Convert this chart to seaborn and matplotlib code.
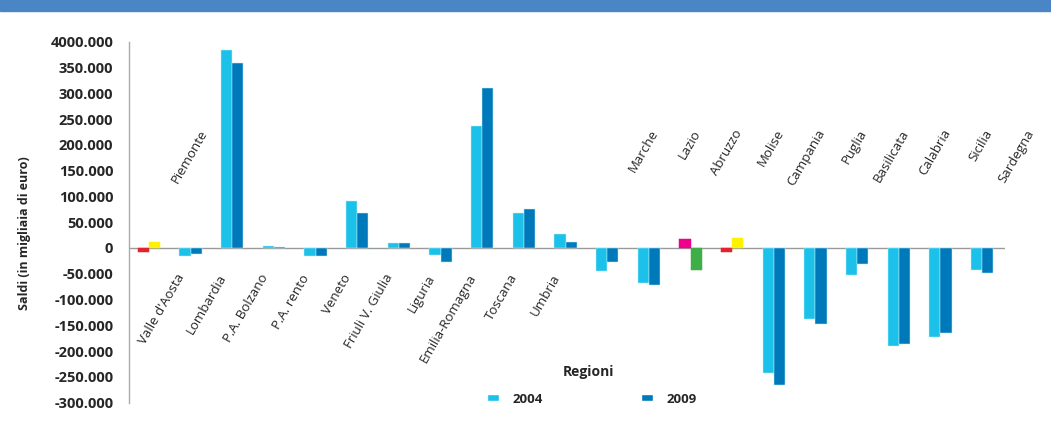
import pandas as pd
import matplotlib.pyplot as plt
import seaborn as sns
from matplotlib.patches import Patch, Rectangle

# ---- Data (migliaia di euro) ----
regions = ["Piemonte", "Valle d'Aosta", "Lombardia", "P.A. Bolzano", "P.A. rento",
           "Veneto", "Friuli V. Giulia", "Liguria", "Emilia-Romagna", "Toscana",
           "Umbria", "Marche", "Lazio", "Abruzzo", "Molise", "Campania", "Puglia",
           "Basilicata", "Calabria", "Sicilia", "Sardegna"]
years = ["2004", "2009"]
v2004 = [-7000, -15000, 383000, 4400, -16000, 91000, 10000, -13500, 237000, 68500,
         27500, -45000, -68000, 18000, -7000, -242000, -138000, -52000, -191000,
         -172000, -42000]
v2009 = [12000, -11500, 359500, 2500, -16000, 68500, 10000, -27500, 311000, 76000,
         11500, -28000, -72000, -42000, 20000, -266000, -148000, -32000, -186000,
         -165000, -49000]
ytick_values = list(range(-300000, 400001, 50000))
ytick_labels = ["-300.000", "-250.000", "-200.000", "-150.000", "-100.000", "-50.000",
                "0", "50.000", "100.000", "150.000", "200.000", "250.000", "300.000",
                "350.000", "4000.000"]
labels_below = regions[1:11]
labels_above = [regions[0]] + regions[11:]

# colours
c2004 = "#1bc1e8"
c2009 = "#0079ba"
special_2004 = {"Piemonte": "#e2232e", "Abruzzo": "#ec008c", "Molise": "#e2232e"}
special_2009 = {"Piemonte": "#fff200", "Abruzzo": "#3fae49", "Molise": "#fff200"}

df = pd.DataFrame({
    "Regione": regions * 2,
    "Anno": [years[0]] * len(regions) + [years[1]] * len(regions),
    "Saldo": v2004 + v2009,
})

sns.set_style("white")
plt.rcParams["font.family"] = ["Open Sans", "DejaVu Sans"]

fig = plt.figure(figsize=(10.51, 4.23), dpi=100)
ax = fig.add_axes([0.123, 0.048, 0.9563 - 0.123, 0.9014 - 0.048])

sns.barplot(data=df, x="Regione", y="Saldo", hue="Anno", palette=[c2004, c2009],
            width=0.54, saturation=1, errorbar=None, legend=False, ax=ax,
            edgecolor="#bfeefa", linewidth=0.35)

# recolour the odd bars
for i, reg in enumerate(regions):
    if reg in special_2004:
        ax.containers[0][i].set_facecolor(special_2004[reg])
        ax.containers[0][i].set_edgecolor(special_2004[reg])
    if reg in special_2009:
        ax.containers[1][i].set_facecolor(special_2009[reg])
        ax.containers[1][i].set_edgecolor(special_2009[reg])

ax.axhline(0, color="#9a9a9a", lw=1, zorder=0)
ax.set_xlim(-0.47, 20.55)
ax.set_ylim(-300000, 400000)
ax.set_yticks(ytick_values)
ax.set_yticklabels(ytick_labels, fontsize=10.5, fontweight="bold")
ax.tick_params(axis="y", length=6.5, width=0.8, color="#aaaaaa", pad=5, direction="out")
ax.set_xticks([])
ax.set_xlabel("")
ax.set_ylabel("")
for s in ["top", "right", "bottom"]:
    ax.spines[s].set_visible(False)
ax.spines["left"].set_color("#aaaaaa")
ax.spines["left"].set_linewidth(1)

# category labels below the zero line
for name in labels_below:
    i = regions.index(name)
    ax.text(i - 0.08, -46500, name, rotation=60, ha="right", va="top", fontsize=9.5)

# category labels placed above
for name in labels_above:
    i = regions.index(name)
    off = 1.46 if i == 0 else 1.3
    ax.text(i + off, 234500, name, rotation=60, ha="right", va="top", fontsize=9.5)

fig.text(25 / 1051, 1 - 233 / 423, "Saldi (in migliaia di euro)", rotation=90,
         ha="center", va="center", fontsize=9, fontweight="bold")
fig.text(589 / 1051, 1 - 372 / 423, "Regioni", ha="center", va="center",
         fontsize=10, fontweight="bold")

handles = [Patch(facecolor=c2004, label=years[0]), Patch(facecolor=c2009, label=years[1])]
leg = fig.legend(handles=handles, loc="center left",
                 bbox_to_anchor=(487 / 1051, 1 - 399 / 423), ncol=2, frameon=False,
                 borderpad=0, borderaxespad=0, handlelength=0.9, handleheight=0.45,
                 handletextpad=1.05, columnspacing=7.4,
                 prop={"size": 9.5, "weight": "bold"})

# header band
fig.patches.append(Rectangle((0, 1 - 11 / 423), 1, 11 / 423, transform=fig.transFigure,
                             color="#4a86c5", zorder=0))

fig.savefig("out.png", dpi=100)
